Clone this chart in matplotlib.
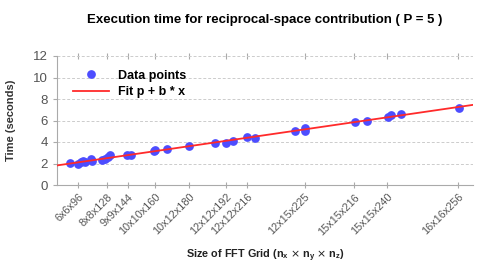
import numpy as np
import matplotlib
matplotlib.use("Agg")
import matplotlib.pyplot as plt

plt.rcParams['font.family'] = ['Liberation Sans', 'DejaVu Sans']

# grid labels and their sizes (nx*ny*nz)
grid_labels = ["6x6x96", "8x8x128", "9x9x144", "10x10x160", "10x12x180", "12x12x192",
               "12x12x216", "12x15x225", "15x15x216", "15x15x240", "16x16x256"]
grid_sizes = [6*6*96, 8*8*128, 9*9*144, 10*10*160, 10*12*180, 12*12*192,
              12*12*216, 12*15*225, 15*15*216, 15*15*240, 16*16*256]

# measured points (grid size, seconds)
size_pts = [2200, 3456, 3900, 4300, 4600, 5500, 5800, 7400, 7900, 8300, 8700,
            11500, 12100, 15900, 16100, 17900, 21600, 25860, 27660, 28740,
            31090, 32400, 38900, 40500, 40600, 48640, 50720, 54090, 54640,
            56280, 65650]
time_pts = [2.05, 2.0, 2.1, 2.2, 2.15, 2.4, 2.25, 2.3, 2.45, 2.6, 2.75,
            2.75, 2.8, 3.15, 3.3, 3.35, 3.65, 3.93, 3.93, 4.06,
            4.49, 4.37, 5.02, 5.05, 5.3, 5.83, 5.95, 6.35, 6.5,
            6.63, 7.16]

b, p = np.polyfit(size_pts, time_pts, 1)

fig = plt.figure(figsize=(4.98, 2.79), dpi=100)
ax = fig.add_axes([57/498, 1-185/279, (473-57)/498, (185-56)/279])

xs = np.array([0, 68000])
ax.plot(size_pts, time_pts, 'o', color='#4d4dff', ms=6.3, mec='none',
        label='Data points', zorder=3)
ax.plot(xs, p + b*xs, color='#ff2a2a', lw=1.3, label='Fit p + b * x', zorder=4)

ax.set_xlim(0, 68000)
ax.set_ylim(0, 12)
ax.set_yticks(range(0, 13, 2))
ax.set_xticks(grid_sizes)
ax.set_xticklabels(grid_labels, rotation=45, ha='right', rotation_mode='anchor',
                   fontsize=7.8, color='#555555')
ax.tick_params(axis='y', labelsize=9.5, labelcolor='#555555', color='#aaaaaa',
               length=3)
ax.tick_params(axis='x', color='#aaaaaa', length=4, direction='inout', top=True,
               pad=3)
ax.grid(axis='y', linestyle='--', color='#cccccc', lw=0.7, dashes=(3, 2))

for s in ['top', 'right']:
    ax.spines[s].set_visible(False)
for s in ['left', 'bottom']:
    ax.spines[s].set_color('#aaaaaa')

ax.set_ylabel('Time (seconds)', fontsize=8, fontweight='bold', color='#333333',
              labelpad=12)
ax.set_xlabel(r'Size of FFT Grid (n$_\mathregular{x}$ $\times$ n$_\mathregular{y}$ $\times$ n$_\mathregular{z}$)',
              fontsize=7.8, fontweight='bold', color='#222222', labelpad=8)
ax.set_title('Execution time for reciprocal-space contribution ( P = 5 )',
             fontsize=9.5, fontweight='bold', pad=24)

leg = ax.legend(loc='upper left', frameon=False, fontsize=9, handlelength=2.9,
                handletextpad=0.7, labelspacing=0.35,
                bbox_to_anchor=(0.012, 0.98))
for t in leg.get_texts():
    t.set_fontweight('bold')

fig.savefig('out.png', dpi=100)
